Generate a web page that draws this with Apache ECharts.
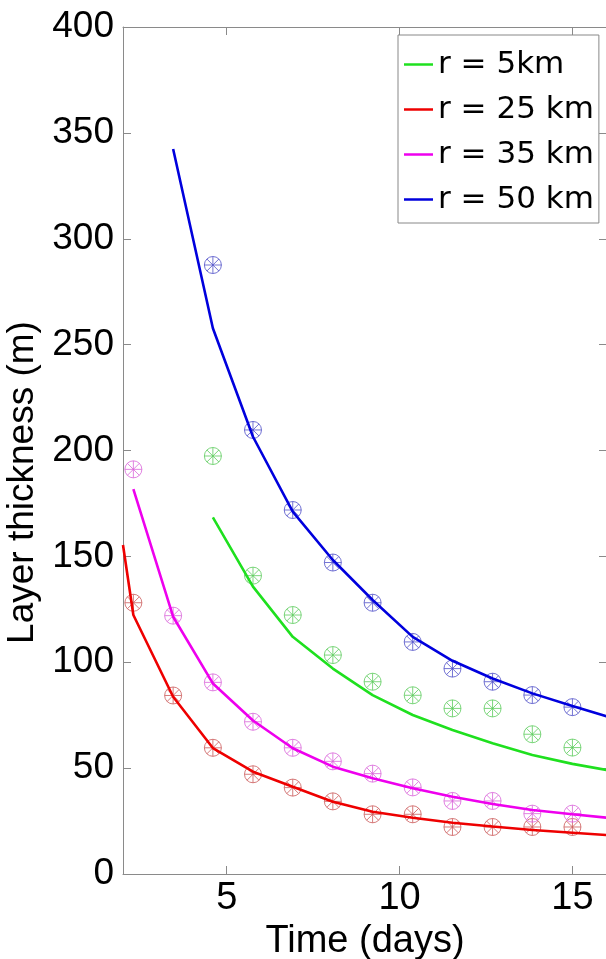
<!DOCTYPE html>
<html>
<head>
<meta charset="utf-8">
<script src="https://cdn.jsdelivr.net/npm/echarts@6/dist/echarts.min.js"></script>
<style>
  html, body { margin: 0; padding: 0; background: #fff; }
  #chart { width: 606px; height: 959px; }
</style>
</head>
<body>
<div id="chart"></div>
<script>
// ---- data ----
const seriesNames = ['r = 5km', 'r = 25 km', 'r = 35 km', 'r = 50 km'];
const lineColors = ['#1fe01f', '#ee0000', '#ee00ee', '#0000dd'];
const markerColors = ['#5ccc5c', '#cc5a5a', '#d964d9', '#5050c8'];

const xTicks = [5, 10, 15];

// model curves (solid lines)
const modelTime = [2.0, 2.3, 3.45, 4.6, 5.76, 6.91, 8.07, 9.22, 10.38, 11.53, 12.69, 13.84, 15.0, 16.0];
const model5km  = [null, null, null, 168.4, 135.7, 112.0, 97.0, 84.5, 75.1, 68.0, 61.7, 56.2, 52.0, 49.1];
const model25km = [155.4, 122.3, 83.7, 59.5, 48.3, 41.2, 34.1, 29.4, 26.6, 24.2, 22.4, 20.8, 19.5, 18.4];
const model35km = [null, 181.8, 121.5, 90.0, 72.5, 59.4, 50.7, 45.2, 40.5, 36.5, 33.1, 30.2, 28.2, 26.6];
const model50km = [null, null, 342.4, 257.7, 206.5, 171.1, 148.3, 129.4, 112.0, 100.7, 92.3, 85.3, 79.3, 74.4];

// observations (circle-asterisk markers)
const obsTime = [2.3, 3.45, 4.6, 5.76, 6.91, 8.07, 9.22, 10.38, 11.53, 12.69, 13.84, 15.0];
const obs5km  = [null, null, 197.4, 140.9, 122.3, 103.4, 90.8, 84.4, 78.2, 78.2, 66.0, 59.7];
const obs25km = [128.1, 84.3, 59.6, 47.1, 40.8, 34.3, 28.2, 28.2, 22.2, 22.2, 22.2, 22.2];
const obs35km = [191.1, 122.0, 90.5, 71.9, 59.6, 53.2, 47.4, 40.9, 34.5, 34.5, 28.5, 28.5];
const obs50km = [null, null, 287.6, 209.7, 171.9, 147.1, 128.1, 109.6, 97.0, 90.8, 84.5, 78.8];

// ---- build ----
const modelSets = [model5km, model25km, model35km, model50km];
const obsSets = [obs5km, obs25km, obs35km, obs50km];
function pairs(xs, ys) {
  return xs.map((x, i) => [x, ys[i]]).filter(p => p[1] !== null);
}
const markerPath = 'path://M10,0 A10,10 0 1 1 -10,0 A10,10 0 1 1 10,0 Z M0,-10 L0,10 M-10,0 L10,0 M-7.07,-7.07 L7.07,7.07 M-7.07,7.07 L7.07,-7.07';

const series = [];
obsSets.forEach((ys, i) => {
  series.push({
    name: seriesNames[i] + ' obs',
    type: 'scatter',
    data: pairs(obsTime, ys),
    symbol: markerPath,
    symbolSize: 17,
    itemStyle: { color: 'rgba(0,0,0,0)', borderColor: markerColors[i], borderWidth: 1 },
    z: 2,
    silent: true
  });
});
modelSets.forEach((ys, i) => {
  series.push({
    name: seriesNames[i],
    type: 'line',
    data: pairs(modelTime, ys),
    showSymbol: false,
    symbol: 'none',
    lineStyle: { color: lineColors[i], width: 2.6 },
    itemStyle: { color: lineColors[i] },
    clip: true,
    z: 3
  });
});

const axisGray = '#8a8a8a';
const chart = echarts.init(document.getElementById('chart'), null, { renderer: 'canvas' });
chart.setOption({
  animation: false,
  backgroundColor: '#fff',
  grid: { left: 123, top: 27, right: -1, bottom: 85, containLabel: false, outerBoundsMode: 'none' },
  legend: {
    data: seriesNames.map(n => ({ name: n, icon: 'rect' })),
    orient: 'vertical',
    left: 398, top: 35,
    padding: [7, 5, 1, 6],
    itemGap: 0,
    itemWidth: 29, itemHeight: 2.5,
    borderColor: '#888', borderWidth: 1,
    backgroundColor: '#fff',
    textStyle: { fontFamily: 'DejaVu Sans', fontSize: 31, color: '#000', lineHeight: 45 },
    selectedMode: false
  },
  xAxis: [{
    type: 'value', min: 2, max: 16, position: 'bottom',
    name: 'Time (days)', nameLocation: 'middle', nameGap: 40,
    nameTextStyle: { fontFamily: 'Liberation Sans', fontSize: 38, color: '#000' },
    axisLine: { show: true, onZero: false, lineStyle: { color: axisGray, width: 1 } },
    axisTick: { show: true, inside: true, length: 8, customValues: xTicks, lineStyle: { color: axisGray } },
    axisLabel: { customValues: xTicks, fontFamily: 'Liberation Sans', fontSize: 38, color: '#000', margin: 6 },
    splitLine: { show: false }
  }, {
    type: 'value', min: 2, max: 16, position: 'top',
    axisLine: { show: true, onZero: false, lineStyle: { color: axisGray, width: 1 } },
    axisTick: { show: true, inside: true, length: 8, customValues: xTicks, lineStyle: { color: axisGray } },
    axisLabel: { show: false },
    splitLine: { show: false }
  }],
  yAxis: [{
    type: 'value', min: 0, max: 400, interval: 50, position: 'left',
    name: 'Layer thickness (m)', nameLocation: 'middle', nameGap: 73,
    nameTextStyle: { fontFamily: 'Liberation Sans', fontSize: 37, color: '#000', padding: [0, 64, 0, 0] },
    axisLine: { show: true, onZero: false, lineStyle: { color: axisGray, width: 1 } },
    axisTick: { show: true, inside: true, length: 8, lineStyle: { color: axisGray } },
    axisLabel: { fontFamily: 'Liberation Sans', fontSize: 37, color: '#000', margin: 9 },
    splitLine: { show: false }
  }, {
    type: 'value', min: 0, max: 400, interval: 50, position: 'right',
    axisLine: { show: true, onZero: false, lineStyle: { color: axisGray, width: 1 } },
    axisTick: { show: true, inside: true, length: 8, lineStyle: { color: axisGray } },
    axisLabel: { show: false },
    splitLine: { show: false }
  }],
  series: series
});
</script>
</body>
</html>
